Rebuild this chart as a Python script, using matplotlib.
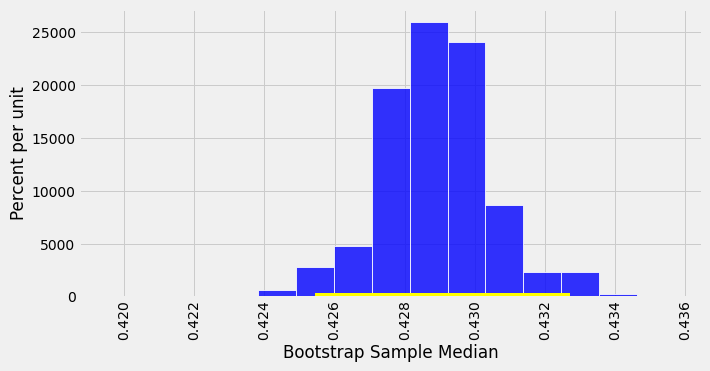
import numpy as np
import matplotlib
matplotlib.use("Agg")
import matplotlib.pyplot as plt

# bin edges and heights (percent per unit)
bin_edges = [0.42274, 0.42382, 0.42490, 0.42598, 0.42706, 0.42814, 0.42922,
             0.43030, 0.43138, 0.43246, 0.43354, 0.43462, 0.43570]
heights = [70, 630, 2800, 4800, 19700, 26000, 24050, 8650, 2380, 2320, 310, 70]

# interval shown as the yellow line
interval = [0.42544, 0.43270]

x_ticks = [0.420, 0.422, 0.424, 0.426, 0.428, 0.430, 0.432, 0.434, 0.436]

plt.style.use("fivethirtyeight")

fig = plt.figure(figsize=(710 / 72, 371 / 72), dpi=72)
ax = fig.add_axes([0.1113, 0.1995, 0.8775, 0.7763])

ax.hist(bin_edges[:-1], bins=bin_edges, weights=heights,
        color="blue", alpha=0.8, ec="w", lw=1)

ax.plot(interval, [0, 0], color="yellow", lw=8)

ax.set_xlim(0.41871, 0.43648)
ax.set_ylim(0, 27200)
ax.set_xticks(x_ticks)
ax.set_xticklabels(["%.3f" % t for t in x_ticks], rotation=90)
ax.set_yticks([0, 5000, 10000, 15000, 20000, 25000])

ax.set_xlabel("Bootstrap Sample Median")
ax.set_ylabel("Percent per unit")

fig.savefig("out.png", dpi=72, facecolor=fig.get_facecolor())
